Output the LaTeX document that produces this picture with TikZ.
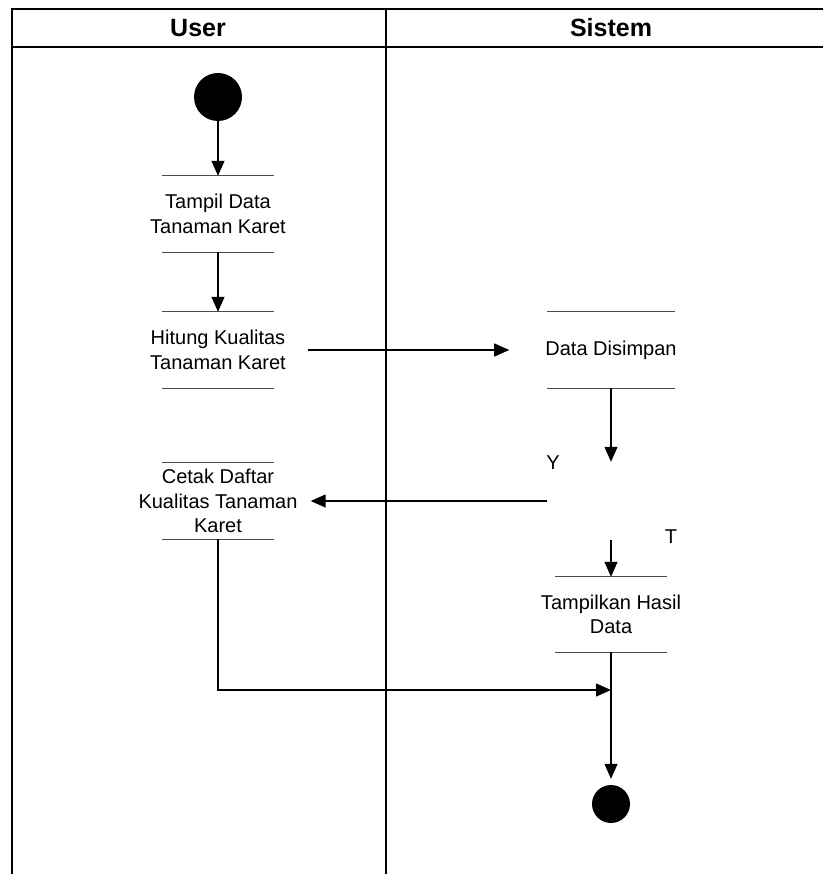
\documentclass[tikz,border=0pt]{standalone}
\usepackage{fontspec}
\setmainfont{Liberation Sans}
\usetikzlibrary{arrows.meta}

\begin{document}
\begin{tikzpicture}[x=1pt, y=-1pt,
  lane/.style={line width=1.5pt, draw=black},
  head/.style={font=\bfseries\fontsize{25}{29}\selectfont, inner sep=0pt},
  act/.style={align=center, inner sep=0pt, minimum height=76pt,
              font=\fontsize{20}{24.5}\selectfont},
  bar/.style={draw=black!70, line width=1.1pt},
  flow/.style={draw=black, line width=1.2pt,
               -{Triangle[length=15pt,width=13pt]}},
  dot/.style={circle, fill=black, inner sep=0pt},
  guard/.style={font=\fontsize{20}{24}\selectfont, inner sep=0pt}
]
\useasboundingbox (0,0) rectangle (823,874);

% swimlane frame
\draw[lane] (823,9) -- (12,9) -- (12,874);
\draw[lane] (12,47) -- (823,47);
\draw[lane] (386,9) -- (386,874);
\node[head] (hUser) at (198,28) {User};
\node[head] (hSys)  at (611,28) {Sistem};

% start and end
\node[dot, minimum size=48pt] (start) at (218,97) {};
\node[dot, minimum size=38pt] (stop)  at (611,804) {};

% activities
\node[act, minimum width=112pt] (tampil) at (218,214) {Tampil Data\\Tanaman Karet};
\node[act, minimum width=112pt] (hitung) at (218,350) {Hitung Kualitas\\Tanaman Karet};
\node[act, minimum width=128pt] (simpan) at (611,350) {Data Disimpan};
\node[act, minimum width=112pt] (cetak)  at (218,501) {Cetak Daftar\\Kualitas Tanaman\\Karet};
\node[act, minimum width=112pt, minimum height=75pt] (hasil) at (611,614.5) {Tampilkan Hasil\\Data};

% activity bars
\foreach \n/\h in {tampil/56, hitung/56, cetak/56, hasil/56, simpan/64}{
  \draw[bar] ([xshift=-\h pt]\n.north) -- ([xshift=\h pt]\n.north);
  \draw[bar] ([xshift=-\h pt]\n.south) -- ([xshift=\h pt]\n.south);
}

% decision point and merge point
\node[minimum width=128pt, minimum height=78pt, inner sep=0pt] (cek) at (611,501) {};
\coordinate (merge) at (611,690);

% guards
\node[guard] (gY) at (553,463) {Y};
\node[guard] (gT) at (671,537) {T};

% flows
\draw[flow] (start.south) -- (tampil.north);
\draw[flow] (tampil.south) -- (hitung.north);
\draw[flow, shorten <=22pt, shorten >=36pt] (hitung.east) -- (simpan.west);
\draw[flow] (simpan.south) -- (cek.north);
\draw[flow, shorten >=13pt] (cek.west) -- (cetak.east);
\draw[flow] (cek.south) -- (hasil.north);
\draw[flow] (cetak.south) |- (merge);
\draw[flow, shorten >=6pt] (hasil.south) -- (stop.north);
\end{tikzpicture}
\end{document}
